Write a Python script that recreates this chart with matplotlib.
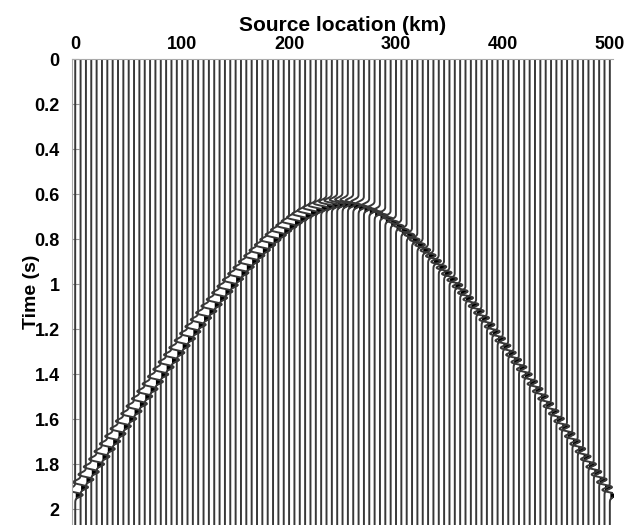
import numpy as np
import matplotlib.pyplot as plt

# Source positions (km) and the event picked off the section
source_km = np.arange(0, 501, 5)
apex_km = 250.0      # source location of the hyperbola apex
apex_time = 0.635    # arrival time at the apex (s)
edge_time = 1.925    # arrival time at the 0 km / 500 km ends (s)
wavelet_sigma = 0.011  # width of the wavelet lobes (s)
amp_km = 7.0          # peak wiggle excursion (km)

t = np.arange(0, 2.1, 0.001)
x_ticks = [0, 100, 200, 300, 400, 500]
y_ticks = [0, 0.2, 0.4, 0.6, 0.8, 1, 1.2, 1.4, 1.6, 1.8, 2]
y_ticklabels = ['0', '0.2', '0.4', '0.6', '0.8', '1', '1.2', '1.4', '1.6', '1.8', '2']

plt.rcParams['font.family'] = ['Liberation Sans', 'DejaVu Sans']
plt.rcParams['font.weight'] = 'bold'

fig = plt.figure(figsize=(6.28, 5.25), dpi=100)
ax = fig.add_axes([0.1147, 0.0, 0.8615, 0.8876])

# moveout velocity from apex / edge times
half_width = max(apex_km - source_km.min(), source_km.max() - apex_km)
vel = half_width / np.sqrt(edge_time ** 2 - apex_time ** 2)

for x0 in source_km:
    t_arr = np.sqrt(apex_time ** 2 + ((x0 - apex_km) / vel) ** 2)
    tau = t - t_arr
    # first derivative of gaussian: trough then peak
    w = (tau / wavelet_sigma) * np.exp(0.5 - tau ** 2 / (2 * wavelet_sigma ** 2))
    xs = x0 + amp_km * w
    ax.fill_betweenx(t, x0, xs, where=w > 0, color='black', lw=0, interpolate=True)
    ax.plot(xs, t, color='#383838', lw=1.4)

ax.set_xlim(-3, 503)
ax.set_ylim(2.07, 0)
ax.xaxis.set_ticks_position('top')
ax.xaxis.set_label_position('top')
ax.set_xticks(x_ticks)
ax.set_yticks(y_ticks)
ax.set_yticklabels(y_ticklabels)
ax.tick_params(axis='x', length=0, labelsize=13, pad=4)
ax.tick_params(axis='y', direction='in', length=5, color='#999999', labelsize=13, pad=9)
ax.set_xlabel('Source location (km)', fontsize=15, fontweight='bold', labelpad=4)
ax.set_ylabel('Time (s)', fontsize=14, fontweight='bold', labelpad=-4)
for s in ['right', 'bottom']:
    ax.spines[s].set_visible(False)
for s in ['left', 'top']:
    ax.spines[s].set_color('#aaaaaa')
    ax.spines[s].set_linewidth(0.8)

fig.savefig('out.png', dpi=100)
